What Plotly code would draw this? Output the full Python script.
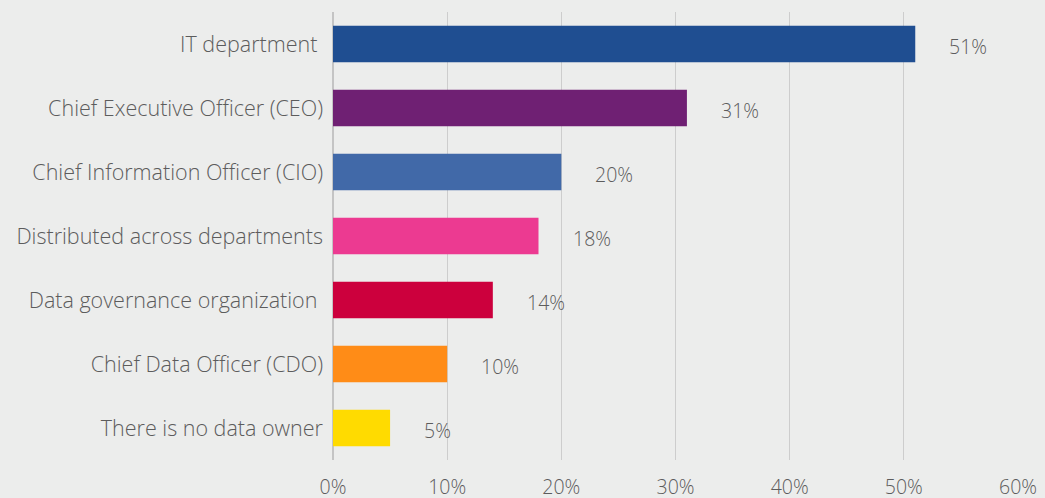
import plotly.graph_objects as go

categories = [
    "IT department\u00a0",
    "Chief Executive Officer (CEO)",
    "Chief Information Officer (CIO)",
    "Distributed across departments",
    "Data governance organization\u00a0",
    "Chief Data Officer (CDO)",
    "There is no data owner",
]
values = [51, 31, 20, 18, 14, 10, 5]
colors = ["#1F4E91", "#6F2073", "#4169A8", "#EC3A91", "#CC003D", "#FF8C17", "#FFDB00"]
tick_vals = [0, 10, 20, 30, 40, 50, 60]
tick_text = ["0%", "10%", "20%", "30%", "40%", "50%", "60%"]

bg = "#ECEDEC"
txt = "#5C5C5C"
fnt = "Open Sans"

fig = go.Figure()
fig.add_trace(go.Bar(
    y=categories, x=values, orientation="h",
    marker=dict(color=colors, line=dict(width=0)),
    width=0.57, hoverinfo="skip",
))
for c, v in zip(categories, values):
    fig.add_annotation(x=v, y=c, text=f"{v}%", showarrow=False,
                       xanchor="left", xshift=32, yshift=-2,
                       font=dict(family=fnt, size=19.5, color=txt, weight=300))

fig.update_layout(
    width=1045, height=498,
    margin=dict(l=333, r=27, t=12, b=38, autoexpand=False),
    paper_bgcolor=bg, plot_bgcolor=bg,
    showlegend=False,
    font=dict(family=fnt, size=21.5, color=txt, weight=300),
)
fig.update_xaxes(range=[0, 60], tickvals=tick_vals, ticktext=tick_text,
                 tickfont=dict(size=19.5),
                 showgrid=True, gridcolor="#CDCDCD", gridwidth=1.3,
                 zeroline=True, zerolinecolor="#C4C4C4", zerolinewidth=2,
                 showline=False, ticklabelstandoff=13, automargin=False)
fig.update_yaxes(categoryorder="array", categoryarray=categories[::-1],
                 showgrid=False, zeroline=False, showline=False,
                 ticklabelstandoff=9, range=[-0.5, 6.5], automargin=False)

fig.write_html("out.html", config={"displayModeBar": False},
               post_script="document.body.style.margin='0';document.body.style.background='#ECEDEC';")
